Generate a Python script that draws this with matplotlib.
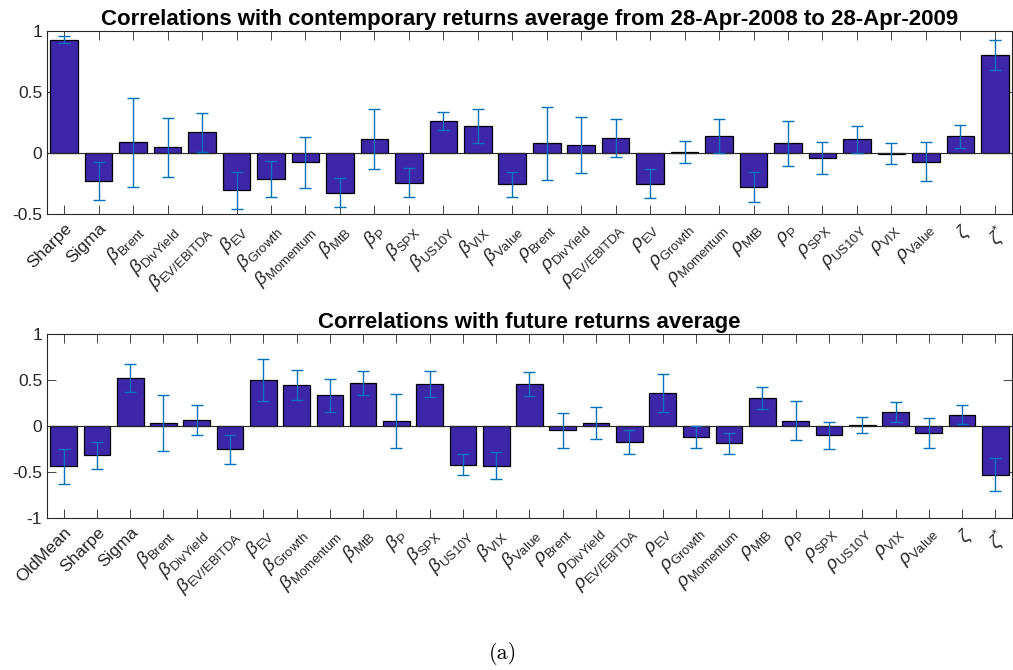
import numpy as np
import matplotlib
matplotlib.use("Agg")
import matplotlib.pyplot as plt

plt.rcParams['font.family'] = 'Liberation Sans'
plt.rcParams['mathtext.fontset'] = 'custom'
plt.rcParams['mathtext.rm'] = 'Liberation Sans'
plt.rcParams['mathtext.it'] = 'Liberation Sans:italic'
plt.rcParams['mathtext.bf'] = 'Liberation Sans:bold'

# factor names shared by the beta / rho labels
factors = ['Brent', 'DivYield', 'EV/EBITDA', 'EV', 'Growth', 'Momentum',
           'MtB', 'P', 'SPX', 'US10Y', 'VIX', 'Value']
greek_labels = ([r'$\beta_{\rm %s}$' % f for f in factors] +
                [r'$\rho_{\rm %s}$' % f for f in factors] +
                [r'$\zeta$', r'$\zeta^{*}$'])

# contemporary returns
top_labels = ['Sharpe', 'Sigma'] + greek_labels
top_vals = [0.93, -0.23, 0.087, 0.046, 0.17, -0.306, -0.216, -0.077, -0.325, 0.112,
            -0.243, 0.26, 0.219, -0.257,
            0.079, 0.066, 0.123, -0.251, 0.005, 0.142, -0.276, 0.079, -0.038, 0.112,
            -0.005, -0.071, 0.137, 0.80]
top_err = [0.03, 0.155, 0.366, 0.243, 0.16, 0.153, 0.148, 0.207, 0.12, 0.246,
           0.116, 0.074, 0.138, 0.101,
           0.30, 0.23, 0.153, 0.12, 0.09, 0.139, 0.123, 0.183, 0.131, 0.112,
           0.089, 0.16, 0.096, 0.123]

# future returns
bot_labels = ['OldMean', 'Sharpe', 'Sigma'] + greek_labels
bot_vals = [-0.44, -0.318, 0.522, 0.033, 0.066, -0.255, 0.50, 0.445, 0.336, 0.467,
            0.055, 0.456, -0.42, -0.43, 0.456,
            -0.047, 0.029, -0.175, 0.358, -0.124, -0.19, 0.307, 0.058, -0.102,
            0.011, 0.153, -0.073, 0.124, -0.529]
bot_err = [0.193, 0.148, 0.15, 0.308, 0.166, 0.158, 0.223, 0.16, 0.18, 0.126,
           0.29, 0.14, 0.113, 0.144, 0.13,
           0.188, 0.175, 0.133, 0.204, 0.12, 0.11, 0.117, 0.21, 0.15,
           0.09, 0.113, 0.164, 0.1, 0.177]

BAR = '#3E26A8'
ERR = '#0072BD'
AXC = '#262626'


def barpanel(ax, labels, vals, err, title, ylim, yticks):
    x = np.arange(1, len(vals) + 1)
    ax.bar(x, vals, width=0.8, color=BAR, edgecolor='black', linewidth=0.9, zorder=2)
    ax.axhline(0, color=AXC, lw=0.8, zorder=3)
    ax.errorbar(x, vals, yerr=err, fmt='none', ecolor=ERR, elinewidth=1.0,
                capsize=4, capthick=1.0, zorder=4)
    ax.set_xlim(0.5, len(vals) + 0.5)
    ax.set_ylim(*ylim)
    ax.set_yticks(yticks)
    ax.set_yticklabels(['%g' % t for t in yticks])
    ax.set_xticks(x)
    ax.set_xticklabels(labels, rotation=45, ha='right', rotation_mode='anchor')
    ax.tick_params(direction='in', top=True, right=True, length=6.5, width=0.6,
                   color=AXC, labelcolor=AXC, labelsize=12.5)
    ax.tick_params(axis='x', pad=5)
    # greek labels: a bit bigger so the subscripts read like the original
    for t in ax.get_xticklabels():
        if t.get_text().startswith('$'):
            t.set_fontsize(13.5)
    for sp in ax.spines.values():
        sp.set_color(AXC)
        sp.set_linewidth(0.8)
    ax.set_title(title, fontsize=16, fontweight='bold', pad=4)


fig = plt.figure(figsize=(10.13, 6.7), dpi=100)
ax1 = fig.add_axes([0.0464, 0.6806, 0.9526, 0.2731])
ax2 = fig.add_axes([0.0464, 0.2269, 0.9526, 0.2746])

barpanel(ax1, top_labels, top_vals, top_err,
         'Correlations with contemporary returns average from 28-Apr-2008 to 28-Apr-2009',
         (-0.5, 1), [-0.5, 0, 0.5, 1])
barpanel(ax2, bot_labels, bot_vals, bot_err,
         'Correlations with future returns average',
         (-1, 1), [-1, -0.5, 0, 0.5, 1])

fig.text(0.4965, 0.025, '(a)', fontfamily='cmr10', fontsize=16, ha='center', va='center')

plt.savefig('out.png', dpi=100)
